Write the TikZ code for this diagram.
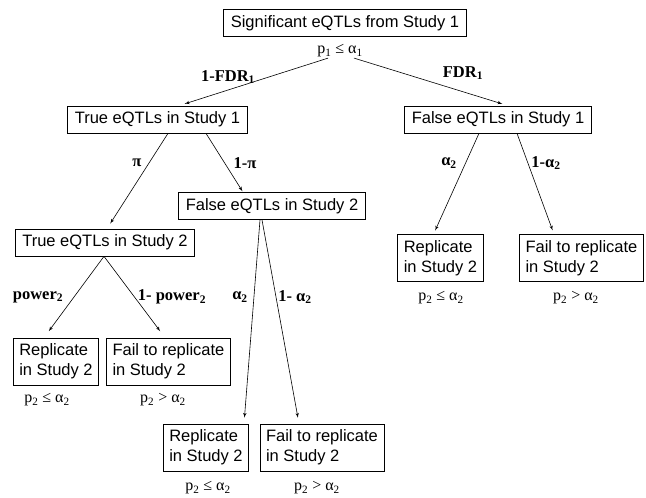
\documentclass[tikz,border=0pt]{standalone}
\usepackage{fontspec}
\setmainfont{Liberation Serif}
\newfontfamily\boxfont{Liberation Sans}
\usetikzlibrary{shapes,arrows}
\tikzstyle{block} = [rectangle, draw, line width=0.7pt,
    font=\boxfont\fontsize{16.5}{20}\selectfont, inner xsep=7pt, minimum height=27pt]
\tikzstyle{twoline} = [block, align=left, minimum height=47pt, inner xsep=6pt]
\tikzstyle{line} = [draw, line width=0.6pt, -latex']
\tikzstyle{prob} = [font=\bfseries\fontsize{16.5}{20}\selectfont, inner sep=0pt]
\tikzstyle{cond} = [font=\fontsize{16}{20}\selectfont, inner sep=0pt]

\begin{document}
\begin{tikzpicture}[x=1pt, y=-1pt]
    \useasboundingbox (0,0) rectangle (646,498);
    % Place nodes
    \node [block] (sig) at (345,23) {Significant eQTLs from Study 1};
    \node [cond] (sigp) at (340,51) {p\textsubscript{1} ≤ α\textsubscript{1}};
    \node [block] (true1) at (157.5,119.5) {True eQTLs in Study 1};
    \node [block] (false1) at (498,119.5) {False eQTLs in Study 1};
    \node [block] (false2) at (272,206) {False eQTLs in Study 2};
    \node [block] (true2) at (105,242.5) {True eQTLs in Study 2};
    \node [twoline] (repC) at (440.5,258) {Replicate\\in Study 2};
    \node [twoline] (failC) at (581.5,258) {Fail to replicate\\in Study 2};
    \node [twoline] (repA) at (56,361.5) {Replicate\\in Study 2};
    \node [twoline] (failA) at (168.5,361.5) {Fail to replicate\\in Study 2};
    \node [twoline] (repB) at (206,447.5) {Replicate\\in Study 2};
    \node [twoline] (failB) at (322,447.5) {Fail to replicate\\in Study 2};
    % Conditions under the boxes
    \node [cond] (repCp) at (441,298) {p\textsubscript{2} ≤ α\textsubscript{2}};
    \node [cond] (failCp) at (576,298) {p\textsubscript{2} > α\textsubscript{2}};
    \node [cond] (repAp) at (47,400) {p\textsubscript{2} ≤ α\textsubscript{2}};
    \node [cond] (failAp) at (163,400) {p\textsubscript{2} > α\textsubscript{2}};
    \node [cond] (repBp) at (208,488) {p\textsubscript{2} ≤ α\textsubscript{2}};
    \node [cond] (failBp) at (317,488) {p\textsubscript{2} > α\textsubscript{2}};
    % Branch probabilities
    \node [prob] (pTrue1) at (228,77) {1-FDR\textsubscript{1}};
    \node [prob] (pFalse1) at (463,73) {FDR\textsubscript{1}};
    \node [prob] (pTrue2) at (137,163) {π};
    \node [prob] (pFalse2) at (245,163) {1-π};
    \node [prob] (pRepC) at (449,163) {α\textsubscript{2}};
    \node [prob] (pFailC) at (546,163) {1-α\textsubscript{2}};
    \node [prob] (pRepA) at (38,297) {power\textsubscript{2}};
    \node [prob] (pFailA) at (172,297) {1- power\textsubscript{2}};
    \node [prob] (pRepB) at (240,297) {α\textsubscript{2}};
    \node [prob] (pFailB) at (295,297) {1- α\textsubscript{2}};
    % Draw edges
    \path [line, shorten <=2pt, shorten >=6pt] ([xshift=-10pt]sigp.south) -- ([xshift=21.5pt]true1.north);
    \path [line, shorten <=2pt, shorten >=6pt] ([xshift=12pt]sigp.south) -- ([xshift=10pt]false1.north);
    \path [line, shorten >=6pt] ([xshift=10.5pt]true1.south) -- ([xshift=2pt]true2.north);
    \path [line, shorten >=1pt] ([xshift=48.5pt]true1.south) -- ([xshift=-29pt]false2.north);
    \path [line, shorten >=4pt] ([xshift=-19pt]false1.south) -- ([xshift=-7pt]repC.north);
    \path [line, shorten >=4pt] ([xshift=19pt]false1.south) -- ([xshift=-27.5pt]failC.north);
    \path [line, shorten >=8pt] ([xshift=-1pt]true2.south) -- ([xshift=-12pt]repA.north);
    \path [line, shorten >=8pt] ([xshift=-1pt]true2.south) -- ([xshift=-3.5pt]failA.north);
    \path [line, shorten >=6pt] ([xshift=-12pt]false2.south) -- ([xshift=38pt]repB.north);
    \path [line, shorten >=6pt] ([xshift=-10pt]false2.south) -- ([xshift=-23pt]failB.north);
\end{tikzpicture}
\end{document}
